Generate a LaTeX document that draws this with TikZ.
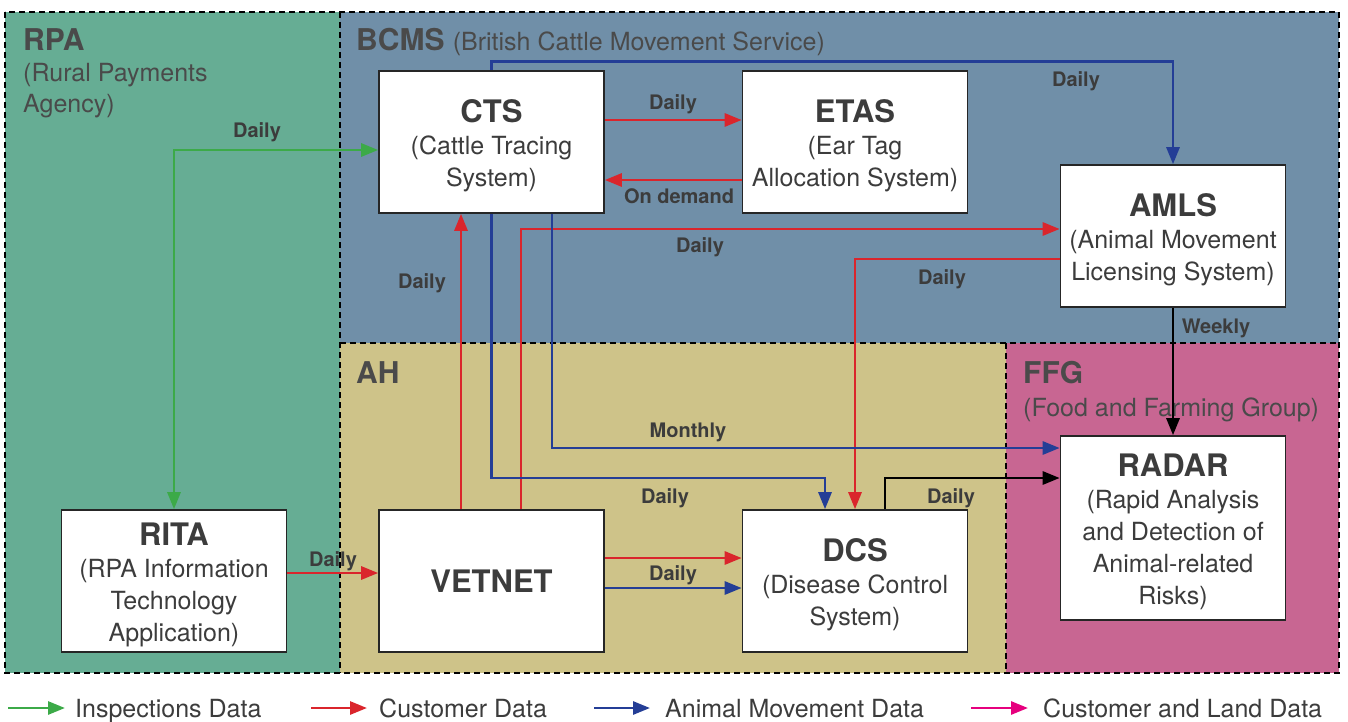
\documentclass[tikz,border=0pt]{standalone}
\usepackage{fontspec}
\setmainfont{TeX Gyre Heros}
\usetikzlibrary{arrows.meta}
\definecolor{rpaC}{RGB}{102,173,148}
\definecolor{bcmsC}{RGB}{112,143,168}
\definecolor{ahC}{RGB}{206,195,137}
\definecolor{ffgC}{RGB}{200,102,146}
\definecolor{gC}{RGB}{60,170,72}
\definecolor{rC}{RGB}{218,37,44}
\definecolor{bC}{RGB}{36,62,150}
\definecolor{mC}{RGB}{230,0,126}
\definecolor{txt}{RGB}{60,60,60}
\definecolor{rtxt}{RGB}{74,74,74}
\newcommand\systitle[1]{{\bfseries\fontsize{31}{32}\selectfont\rule{0pt}{30pt}#1}}
\newcommand\solotitle[1]{{\bfseries\fontsize{31}{32}\selectfont #1}}
\begin{document}
\begin{tikzpicture}[x=1pt,y=-1pt,
 >={Triangle[length=17pt,width=13pt]},
 region/.style={draw=black, line width=2pt, dash pattern=on 6pt off 4pt},
 sysbox/.style={draw=black!85, line width=1.6pt, fill=white, minimum width=225pt, minimum height=142pt, align=center, inner sep=0pt, text=txt, font=\fontsize{25}{32}\selectfont},
 conn/.style={line width=2.8pt, ->},
 lbl/.style={anchor=base, text=txt, font=\bfseries\fontsize{20}{24}\selectfont, inner sep=0pt},
 rtitle/.style={anchor=base west, inner sep=0pt, text=rtxt, font=\bfseries\fontsize{30}{36}\selectfont},
 rsub/.style={anchor=base west, inner sep=0pt, text=rtxt, font=\fontsize{25}{31}\selectfont},
 legtext/.style={anchor=base west, inner sep=0pt, text=txt, font=\fontsize{25}{31}\selectfont}
]
\useasboundingbox (0,0) rectangle (1348,722);
% region fills
\fill[rpaC] (5,12) rectangle (340,673);
\fill[bcmsC] (340,12) rectangle (1339,343);
\fill[ahC] (340,343) rectangle (1006,673);
\fill[ffgC] (1006,343) rectangle (1339,673);
% region labels
\node[rtitle] (rpaT) at (23,51) {RPA};
\node[rsub] (rpaS1) at (23,82) {(Rural Payments};
\node[rsub] (rpaS2) at (23,113) {Agency)};
\node[rtitle] (bcmsT) at (356,51) {BCMS {\mdseries\fontsize{25}{31}\selectfont (British Cattle Movement Service)}};
\node[rtitle] (ahT) at (356,383) {AH};
\node[rtitle] (ffgT) at (1023,383) {FFG};
\node[rsub] (ffgS) at (1023,416) {(Food and Farming Group)};
% region borders
\draw[region] (5,12) rectangle (1339,673);
\draw[region] (340,12) -- (340,673);
\draw[region] (340,343) -- (1339,343);
\draw[region] (1006,343) -- (1006,673);
% boxes
\node[sysbox] (cts) at (491.5,142) {\systitle{CTS}\\(Cattle Tracing\\System)};
\node[sysbox] (etas) at (855,142) {\systitle{ETAS}\\(Ear Tag\\Allocation System)};
\node[sysbox] (amls) at (1173,236) {\systitle{AMLS}\\(Animal Movement\\Licensing System)};
\node[sysbox] (rita) at (174,581) {\systitle{RITA}\\(RPA Information\\Technology\\Application)};
\node[sysbox] (vetnet) at (491.5,581) {\solotitle{VETNET}};
\node[sysbox] (dcs) at (855,581) {\systitle{DCS}\\(Disease Control\\System)};
\node[sysbox, minimum height=184pt] (radar) at (1173,528) {\systitle{RADAR}\\(Rapid Analysis\\and Detection of\\Animal-related\\Risks)};
% connectors
\coordinate (gbend) at (174,150);
\draw[line width=2.8pt, gC, <->] (rita.north) -- (gbend) -- (gbend -| cts.west);
\draw[conn, rC] ([yshift=22pt]cts.east) -- ([yshift=22pt]etas.west);
\draw[conn, rC] ([yshift=-38pt]etas.west) -- ([yshift=-38pt]cts.east);
\draw[conn, bC] (cts.north) -- ++(0,-9) -| (amls.north);
\draw[conn, rC] ([xshift=-30.5pt]vetnet.north) -- ([xshift=-30.5pt]cts.south);
\draw[conn, rC] ([xshift=29.5pt]vetnet.north) |- ([yshift=7pt]amls.west);
\draw[conn, rC] ([yshift=-23pt]amls.west) -| (dcs.north);
\coordinate (bbend) at (825,478);
\draw[conn, bC] (cts.south) |- (bbend) -- (bbend |- dcs.north);
\draw[conn, bC] ([xshift=60.5pt]cts.south) |- ([yshift=80pt]radar.west);
\draw[conn, black] (amls.south) -- (radar.north);
\draw[conn, black] ([xshift=30pt]dcs.north) |- ([yshift=50pt]radar.west);
\draw[conn, rC] ([yshift=8pt]rita.east) -- ([yshift=8pt]vetnet.west);
\draw[conn, rC] ([yshift=23pt]vetnet.east) -- ([yshift=23pt]dcs.west);
\draw[conn, bC] ([yshift=-7pt]vetnet.east) -- ([yshift=-7pt]dcs.west);
% connector labels
\node[lbl] (l1) at (257,138) {Daily};
\node[lbl] (l2) at (673,110) {Daily};
\node[lbl] (l3) at (679,204) {On demand};
\node[lbl] (l4) at (1076,87) {Daily};
\node[lbl] (l5) at (422,288) {Daily};
\node[lbl] (l6) at (700,252) {Daily};
\node[lbl] (l7) at (942,284) {Daily};
\node[lbl] (l8) at (1216,333) {Weekly};
\node[lbl] (l9) at (688,437) {Monthly};
\node[lbl] (l10) at (665,503) {Daily};
\node[lbl] (l11) at (951,503) {Daily};
\node[lbl] (l12) at (333,566) {Daily};
\node[lbl] (l13) at (673,580) {Daily};
% legend
\coordinate (g1a) at (8,708); \coordinate (g1b) at (65,708);
\coordinate (g2a) at (311,708); \coordinate (g2b) at (367,708);
\coordinate (g3a) at (594,708); \coordinate (g3b) at (650,708);
\coordinate (g4a) at (971,708); \coordinate (g4b) at (1028,708);
\draw[conn, gC] (g1a) -- (g1b);
\draw[conn, rC] (g2a) -- (g2b);
\draw[conn, bC] (g3a) -- (g3b);
\draw[conn, mC] (g4a) -- (g4b);
\node[legtext] (t1) at (75,717) {Inspections Data};
\node[legtext] (t2) at (379,717) {Customer Data};
\node[legtext] (t3) at (665,717) {Animal Movement Data};
\node[legtext] (t4) at (1043,717) {Customer and Land Data};
\end{tikzpicture}
\end{document}
